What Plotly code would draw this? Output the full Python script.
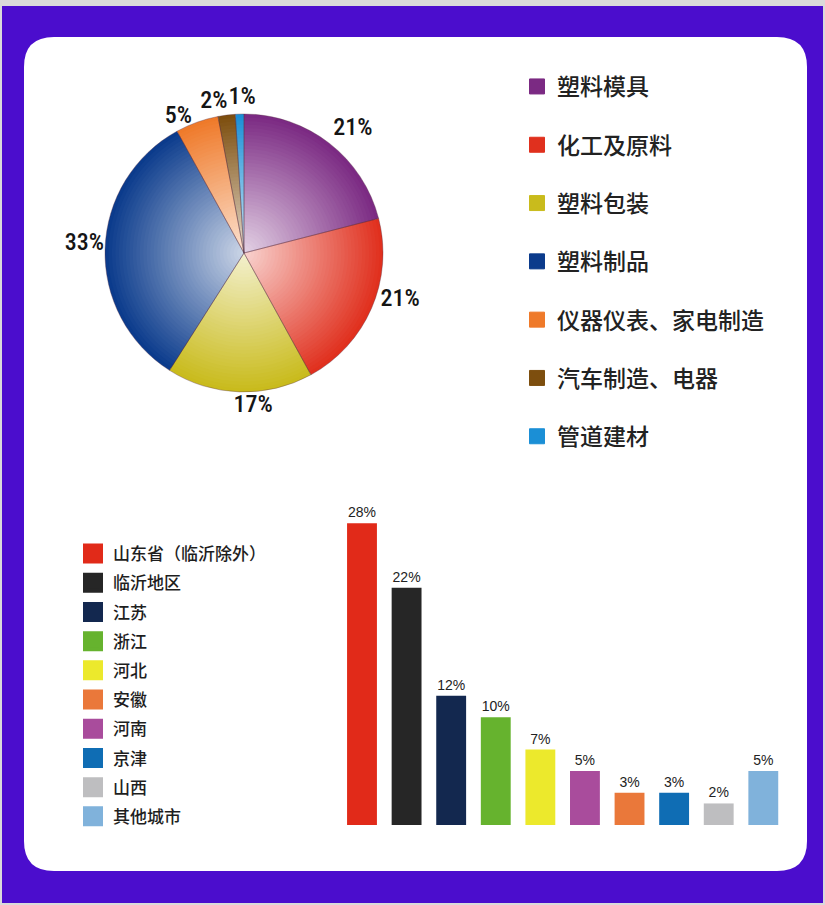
import plotly.graph_objects as go

W, H = 825, 905

# ---------------- data ----------------
pie_labels = ["塑料模具", "化工及原料", "塑料包装", "塑料制品",
              "仪器仪表、家电制造", "汽车制造、电器", "管道建材"]
pie_values = [21, 21, 17, 33, 5, 2, 1]
pie_colors = ["#7b2a83", "#e0301e", "#c9bb1c", "#0b3b8c",
              "#ef7a2a", "#7d4e0e", "#1b8fd6"]

bar_labels = ["山东省（临沂除外）", "临沂地区", "江苏", "浙江", "河北",
              "安徽", "河南", "京津", "山西", "其他城市"]
bar_values = [28, 22, 12, 10, 7, 3, 5, 3, 2, 5]
bar_colors = ["#e12a19", "#262626", "#13284f", "#66b32e", "#ece92c",
              "#ea783a", "#a94c9c", "#0f6db4", "#bebec0", "#80b2db"]
bar_order = ["山东省（临沂除外）", "临沂地区", "江苏", "浙江", "河北",
             "河南", "安徽", "京津", "山西", "其他城市"]

CJK = "Noto Sans CJK SC"
NARROW = "Roboto Condensed, Archivo Narrow, Liberation Sans, sans-serif"

# label nudges (pixels) for the pie's outside percentage labels, per slice
label_nudge = [(-3, -7), (2, -12), (40, -2), (6, -7), (2, 5), (8, -1), (23, -4)]


def mix(hexc, f):
    r, g, b = int(hexc[1:3], 16), int(hexc[3:5], 16), int(hexc[5:7], 16)
    return "rgb(%d,%d,%d)" % (round(r + (255 - r) * f), round(g + (255 - g) * f), round(b + (255 - b) * f))


def px(x):
    return x / W


def py(y):
    return 1 - y / H


fig = go.Figure()

cx, cy, R = 244, 253, 139
N = 40
n = len(pie_values)
# stacked layers give the pie its radial light-centre shading
for i in range(N):
    r = R * (1 - i / N)
    f = 0.80 * (i / N)
    fig.add_trace(go.Pie(
        values=pie_values, labels=pie_labels, sort=False,
        direction="clockwise", rotation=0,
        marker=dict(colors=[mix(c, f) for c in pie_colors], line=dict(width=0)),
        domain=dict(x=[px(cx - r), px(cx + r)], y=[py(cy + r), py(cy - r)]),
        textinfo="none", showlegend=False, hoverinfo="skip",
    ))

# slice separators
fig.add_trace(go.Pie(
    values=pie_values, labels=pie_labels, sort=False,
    direction="clockwise", rotation=0,
    marker=dict(colors=["rgba(0,0,0,0)"] * n,
                line=dict(width=0.8, color="rgba(90,50,70,0.45)")),
    domain=dict(x=[px(cx - R), px(cx + R)], y=[py(cy + R), py(cy - R)]),
    textinfo="none", showlegend=False, hoverinfo="skip",
))

# outside percentage labels, one transparent layer per slice
for k in range(n):
    dx, dy = label_nudge[k]
    fig.add_trace(go.Pie(
        values=pie_values, labels=pie_labels, sort=False,
        direction="clockwise", rotation=0,
        marker=dict(colors=["rgba(0,0,0,0)"] * n, line=dict(width=0)),
        domain=dict(x=[px(cx + dx - R), px(cx + dx + R)], y=[py(cy + dy + R), py(cy + dy - R)]),
        texttemplate="%{value}%",
        textposition=["outside" if j == k else "none" for j in range(n)],
        outsidetextfont=dict(size=24, color="#151515", family=NARROW, weight=500),
        showlegend=False, hoverinfo="skip",
    ))

# pie legend entries
for lab, col in zip(pie_labels, pie_colors):
    fig.add_trace(go.Scatter(
        x=[None], y=[None], mode="markers", name=lab,
        marker=dict(symbol="square", size=15, color=col, line=dict(width=1, color=col)),
        legend="legend", legendgroup="p_" + lab, showlegend=True,
    ))

# bar chart
val_map = dict(zip(bar_labels, bar_values))
col_map = dict(zip(bar_labels, bar_colors))
fig.add_trace(go.Bar(
    x=bar_order, y=[val_map[k] for k in bar_order],
    marker=dict(color=[col_map[k] for k in bar_order], line=dict(width=0)),
    texttemplate="%{y}%", textposition="outside", constraintext="none",
    textfont=dict(size=14, color="#222222", family="Liberation Sans, Arial, sans-serif"),
    cliponaxis=False, showlegend=False, hoverinfo="skip",
))

# bar legend entries
for lab, col in zip(bar_labels, bar_colors):
    fig.add_trace(go.Scatter(
        x=[None], y=[None], mode="markers", name=lab,
        marker=dict(symbol="square", size=16, color=col, line=dict(width=4, color=col)),
        legend="legend2", legendgroup="b_" + lab, showlegend=True,
    ))

x0, y0, x1, y1, rr = 24, 37, 807, 871, 30
card = (
    f"M {px(x0 + rr)} {py(y0)} L {px(x1 - rr)} {py(y0)} "
    f"Q {px(x1)} {py(y0)} {px(x1)} {py(y0 + rr)} "
    f"L {px(x1)} {py(y1 - rr)} Q {px(x1)} {py(y1)} {px(x1 - rr)} {py(y1)} "
    f"L {px(x0 + rr)} {py(y1)} Q {px(x0)} {py(y1)} {px(x0)} {py(y1 - rr)} "
    f"L {px(x0)} {py(y0 + rr)} Q {px(x0)} {py(y0)} {px(x0 + rr)} {py(y0)} Z"
)
shapes = [
    dict(type="rect", xref="paper", yref="paper", x0=px(2), x1=px(823), y0=py(903), y1=py(6),
         fillcolor="#4b0dcd", line=dict(width=0), layer="below"),
    dict(type="path", xref="paper", yref="paper", path=card,
         fillcolor="#ffffff", line=dict(width=0), layer="below"),
]

fig.update_layout(
    width=W, height=H,
    margin=dict(l=0, r=0, t=0, b=0),
    paper_bgcolor="#dadada", plot_bgcolor="rgba(0,0,0,0)",
    xaxis=dict(domain=[px(339.7), px(785.6)], visible=False, type="category",
               categoryorder="array", categoryarray=bar_order),
    yaxis=dict(domain=[py(825), py(825 - 323.4)], range=[0, 30], visible=False),
    bargap=0.33,
    legend=dict(x=px(517), y=py(65), xanchor="left", yanchor="top",
                traceorder="grouped", tracegroupgap=25.4,
                font=dict(size=23, color="#222222", family=CJK, weight=500),
                bgcolor="rgba(0,0,0,0)", borderwidth=0),
    legend2=dict(x=px(73), y=py(536), xanchor="left", yanchor="top",
                 traceorder="grouped", tracegroupgap=4.1,
                 font=dict(size=17, color="#1e1e1e", family=CJK, weight=500),
                 bgcolor="rgba(0,0,0,0)", borderwidth=0),
    shapes=shapes,
)

fig.write_html("out.html", config={"displayModeBar": False},
               post_script="document.body.style.margin='0px';")
